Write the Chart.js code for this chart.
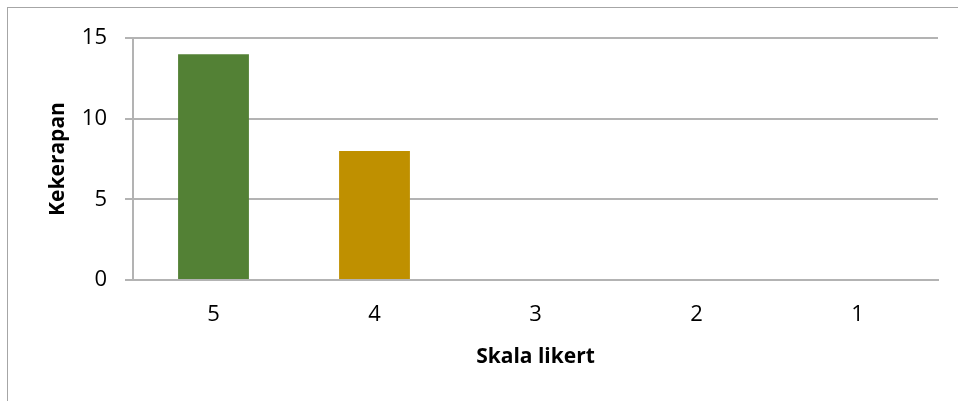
<!DOCTYPE html>
<html>
<head>
<meta charset="utf-8">
<script src="https://cdn.jsdelivr.net/npm/chart.js@4"></script>
<style>
  html, body { margin: 0; padding: 0; background: #fff; }
  #wrap { width: 958px; height: 401px; }
</style>
</head>
<body>
<div id="wrap"><canvas id="likertChart" width="958" height="401"></canvas></div>
<script>
// data
const categories = ['5', '4', '3', '2', '1'];
const counts = [14, 8, 0, 0, 0];
const barColors = ['#538135', '#BF9000', '#4472C4', '#A5A5A5', '#ED7D31'];
const yTicks = [0, 5, 10, 15];

// thin frame around the whole chart, like the office export
const frame = {
  id: 'frame',
  beforeDraw(chart) {
    const c = chart.ctx;
    c.save();
    c.fillStyle = '#fff';
    c.fillRect(0, 0, chart.width, chart.height);
    c.strokeStyle = '#A6A6A6';
    c.lineWidth = 1;
    c.strokeRect(7.5, 7.5, chart.width + 20, chart.height + 20);
    c.restore();
  }
};

const ctx = document.getElementById('likertChart').getContext('2d');

new Chart(ctx, {
  type: 'bar',
  data: {
    labels: categories,
    datasets: [{
      label: 'Kekerapan',
      data: counts,
      backgroundColor: barColors,
      categoryPercentage: 1,
      barPercentage: 0.44
    }]
  },
  options: {
    responsive: false,
    animation: false,
    layout: { padding: { top: 38, right: 20, left: 0, bottom: 0 } },
    scales: {
      x: {
        grid: { display: false, drawTicks: false },
        border: { display: true, color: '#B3B3B3', width: 2 },
        ticks: { color: '#000', font: { family: 'Open Sans', size: 22 }, padding: 22 },
        title: {
          display: true,
          text: 'Skala likert',
          color: '#000',
          font: { family: 'Open Sans', size: 21, weight: 'bold' },
          padding: { top: 0, bottom: 31 }
        },
        afterFit(scale) { scale.height = 121; }
      },
      y: {
        min: 0,
        max: 15,
        afterBuildTicks(scale) { scale.ticks = yTicks.map(v => ({ value: v })); },
        grid: { color: '#B3B3B3', lineWidth: 2, tickLength: 8 },
        border: { display: true, color: '#B3B3B3', width: 2 },
        ticks: { color: '#000', font: { family: 'Open Sans', size: 22 }, padding: 18 },
        title: {
          display: true,
          text: 'Kekerapan',
          color: '#000',
          font: { family: 'Open Sans', size: 21, weight: 'bold' },
          padding: { top: 45, bottom: 0 }
        },
        afterFit(scale) { scale.width = 133; }
      }
    },
    plugins: {
      legend: { display: false },
      tooltip: { enabled: false }
    }
  },
  plugins: [frame]
});
</script>
</body>
</html>
